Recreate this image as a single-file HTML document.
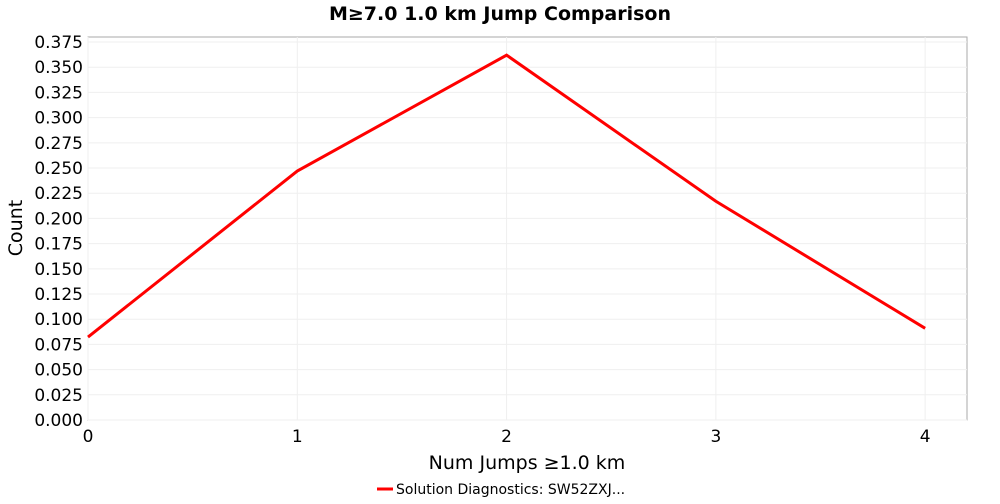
<!DOCTYPE html>
<html><head><meta charset="utf-8"><style>
body{margin:0;background:#fff;font-family:"DejaVu Sans","Liberation Sans",sans-serif}
</style></head><body>
<svg id="chart" width="1000" height="500" xmlns="http://www.w3.org/2000/svg" font-family="DejaVu Sans, Liberation Sans, sans-serif">
<text x="500" y="20" text-anchor="middle" font-size="19" font-weight="bold">M≥7.0 1.0 km Jump Comparison</text>
<rect x="88" y="37" width="879" height="383" fill="#fff" stroke="#aaa"/>
<g id="grid"></g>
<g id="axes"></g>
<path id="line" fill="none" stroke="#f00" stroke-width="3"/>
<text transform="translate(22,228) rotate(-90)" text-anchor="middle" font-size="19">Count</text>
<text x="527" y="469" text-anchor="middle" font-size="19">Num Jumps ≥1.0 km</text>
<g>
<line x1="377" y1="489" x2="393" y2="489" stroke="#f00" stroke-width="3"/>
<text x="396" y="494" font-size="14">Solution Diagnostics: SW52ZXJ...</text>
</g>
</svg>
<script>
const xs=[0,1,2,3,4];
const ys=[0.0823,0.247,0.362,0.217,0.091];
const yTicks=[0,0.025,0.05,0.075,0.1,0.125,0.15,0.175,0.2,0.225,0.25,0.275,0.3,0.325,0.35,0.375];
const xTicks=[0,1,2,3,4];
const L=88,R=967,T=37,B=420,xMax=4.2,yMax=0.38;
const sx=v=>L+v/xMax*(R-L), sy=v=>B-v/yMax*(B-T);
const NS="http://www.w3.org/2000/svg";
const g=document.getElementById('grid'),a=document.getElementById('axes');
function mk(t,at,p){const e=document.createElementNS(NS,t);for(const k in at)e.setAttribute(k,at[k]);p.appendChild(e);return e;}
yTicks.forEach(v=>{const y=sy(v);
const l=mk('line',{x1:L,x2:R,y1:y,y2:y,stroke:'#efefef'},g);


const t=mk('text',{x:L-5,y:y+6,'text-anchor':'end','font-size':17},a);t.textContent=v.toFixed(3);

});
xTicks.forEach(v=>{const x=sx(v);
const l=mk('line',{x1:x,x2:x,y1:T,y2:B,stroke:'#efefef'},g);


const t=mk('text',{x:x,y:B+22,'text-anchor':'middle','font-size':17},a);t.textContent=v;

});
document.getElementById('line').setAttribute('d',xs.map((x,i)=>(i?'L':'M')+sx(x)+','+sy(ys[i])).join(''));
</script>
</body></html>
